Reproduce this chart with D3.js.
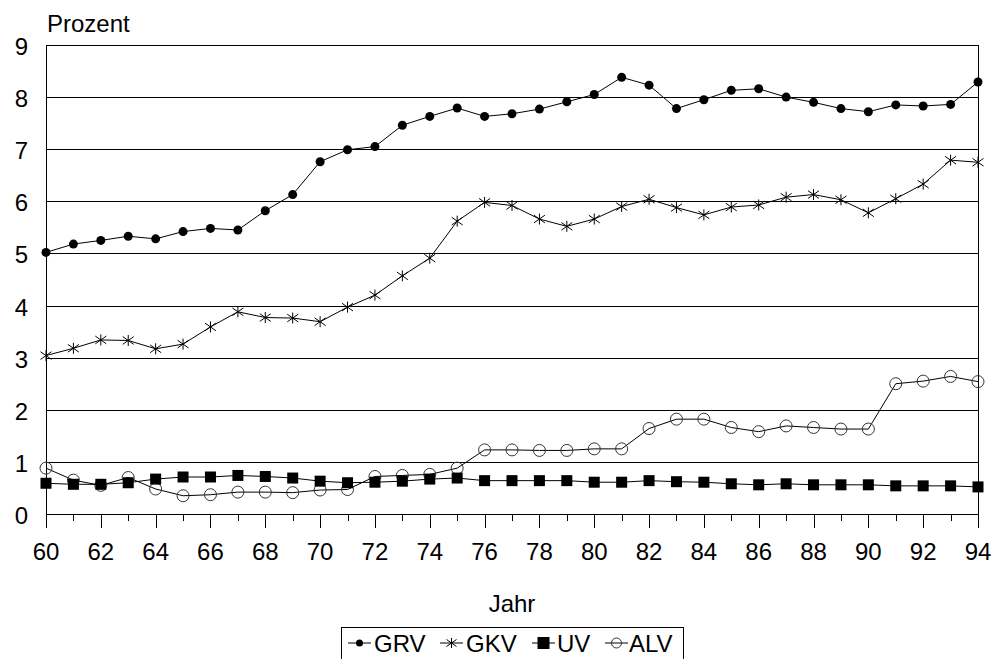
<!DOCTYPE html>
<html>
<head>
<meta charset="utf-8">
<script src="https://cdn.jsdelivr.net/npm/d3@7"></script>
<style>
  html, body { margin: 0; padding: 0; background: #fff; }
  svg { display: block; font-family: "Liberation Sans", Arial, sans-serif; }
</style>
</head>
<body>
<svg id="chart" width="992" height="659"></svg>
<script>
// ---- data ----
const years = [60,61,62,63,64,65,66,67,68,69,70,71,72,73,74,75,76,77,78,79,80,81,82,83,84,85,86,87,88,89,90,91,92,93,94];
const xTickLabels = [60,62,64,66,68,70,72,74,76,78,80,82,84,86,88,90,92,94];
const yTickLabels = [0,1,2,3,4,5,6,7,8,9];
const seriesNames = ["GRV","GKV","UV","ALV"];

const GRV = [5.02,5.18,5.25,5.33,5.28,5.42,5.48,5.45,5.82,6.13,6.76,6.99,7.05,7.46,7.63,7.79,7.63,7.68,7.77,7.91,8.05,8.38,8.23,7.78,7.95,8.13,8.16,8.00,7.90,7.78,7.72,7.85,7.83,7.86,8.29];
const GKV = [3.04,3.18,3.34,3.33,3.17,3.26,3.59,3.88,3.77,3.76,3.69,3.97,4.20,4.57,4.91,5.62,5.98,5.92,5.66,5.52,5.66,5.90,6.04,5.88,5.74,5.89,5.93,6.08,6.13,6.03,5.78,6.05,6.33,6.79,6.75];
const UV  = [0.59,0.57,0.57,0.60,0.67,0.71,0.71,0.74,0.72,0.69,0.63,0.60,0.61,0.63,0.67,0.69,0.64,0.64,0.64,0.64,0.61,0.61,0.64,0.62,0.61,0.58,0.56,0.58,0.56,0.56,0.56,0.54,0.54,0.54,0.52];
const ALV = [0.88,0.65,0.55,0.70,0.48,0.35,0.37,0.42,0.42,0.41,0.46,0.47,0.72,0.74,0.76,0.88,1.23,1.23,1.22,1.22,1.25,1.25,1.64,1.82,1.82,1.66,1.58,1.69,1.66,1.63,1.63,2.50,2.55,2.64,2.54];

// ---- layout ----
const svg = d3.select("#chart");
const pLeft = 46, pRight = 978, pTop = 45, pBottom = 514;
const x = d3.scaleLinear().domain([60, 94]).range([pLeft, pRight]);
const y = d3.scaleLinear().domain([0, 9]).range([pBottom, pTop]);
const fontSize = 24;
const crisp = v => Math.round(v) + 0.5;

// horizontal gridlines
svg.append("g").selectAll("line").data(yTickLabels).join("line")
  .attr("x1", pLeft).attr("x2", pRight)
  .attr("y1", d => crisp(y(d))).attr("y2", d => crisp(y(d)))
  .attr("stroke", "#000").attr("stroke-width", 1);

// y labels
svg.append("g").selectAll("text").data(yTickLabels).join("text")
  .attr("x", 28).attr("y", d => y(d) + 10)
  .attr("text-anchor", "end")
  .attr("font-size", fontSize)
  .attr("fill", "#000")
  .text(d => d);

// left & right frame lines
[pLeft, pRight].forEach(px => {
  svg.append("line").attr("x1", crisp(px)).attr("x2", crisp(px))
    .attr("y1", pTop).attr("y2", pBottom)
    .attr("stroke", "#000").attr("stroke-width", 1);
});

// x axis ticks: minor every year, major every two years
svg.append("g").selectAll("line").data(years).join("line")
  .attr("x1", d => crisp(x(d))).attr("x2", d => crisp(x(d)))
  .attr("y1", pBottom).attr("y2", d => pBottom + (xTickLabels.includes(d) ? 14 : 7))
  .attr("stroke", "#000").attr("stroke-width", 1);

// x labels
svg.append("g").selectAll("text").data(xTickLabels).join("text")
  .attr("x", d => x(d)).attr("y", 560)
  .attr("text-anchor", "middle")
  .attr("font-size", fontSize)
  .attr("fill", "#000")
  .text(d => d);

// axis titles
svg.append("text").attr("x", 47).attr("y", 32).attr("font-size", fontSize).attr("fill", "#000").text("Prozent");
svg.append("text").attr("x", (pLeft + pRight) / 2).attr("y", 612).attr("text-anchor", "middle")
  .attr("font-size", fontSize).attr("fill", "#000").text("Jahr");

// ---- series ----
const line = d3.line().x((d, i) => x(years[i])).y(d => y(d));
const starPath = s => `M0,${-s} V${s} M${-s},${-s*0.7} L${s},${s*0.7} M${-s},${s*0.7} L${s},${-s*0.7}`;

function drawLine(vals) {
  svg.append("path").datum(vals).attr("d", line)
    .attr("fill", "none").attr("stroke", "#000").attr("stroke-width", 1);
}

// GRV
drawLine(GRV);
svg.append("g").selectAll("circle").data(GRV).join("circle")
  .attr("cx", (d, i) => x(years[i])).attr("cy", d => y(d)).attr("r", 4.5).attr("fill", "#000");

// GKV
drawLine(GKV);
svg.append("g").selectAll("path").data(GKV).join("path")
  .attr("transform", (d, i) => `translate(${x(years[i])},${y(d)})`)
  .attr("d", starPath(5.5)).attr("stroke", "#000").attr("stroke-width", 1).attr("fill", "none");

// ALV
drawLine(ALV);
svg.append("g").selectAll("circle").data(ALV).join("circle")
  .attr("cx", (d, i) => x(years[i])).attr("cy", d => y(d)).attr("r", 6)
  .attr("fill", "none").attr("stroke", "#333").attr("stroke-width", 1);

// UV
drawLine(UV);
svg.append("g").selectAll("rect").data(UV).join("rect")
  .attr("x", (d, i) => x(years[i]) - 5.5).attr("y", d => y(d) - 5.5)
  .attr("width", 11).attr("height", 11).attr("fill", "#000");

// ---- legend ----
const lg = svg.append("g");
lg.append("rect").attr("x", 341.5).attr("y", 627.5).attr("width", 342).attr("height", 40)
  .attr("fill", "#fff").attr("stroke", "#000").attr("stroke-width", 1);
const legendItems = [
  { name: seriesNames[0], sx: 348, tx: 374 },
  { name: seriesNames[1], sx: 440, tx: 466 },
  { name: seriesNames[2], sx: 532, tx: 557 },
  { name: seriesNames[3], sx: 605, tx: 629 }
];
const ly = 643;
legendItems.forEach((it, k) => {
  const cx = it.sx + 11.5;
  lg.append("line").attr("x1", it.sx).attr("x2", it.sx + 23).attr("y1", ly).attr("y2", ly)
    .attr("stroke", "#000").attr("stroke-width", 1);
  if (k === 0) lg.append("circle").attr("cx", cx).attr("cy", ly).attr("r", 3.5).attr("fill", "#000");
  if (k === 1) lg.append("path").attr("transform", `translate(${cx},${ly})`).attr("d", starPath(5))
      .attr("stroke", "#000").attr("fill", "none");
  if (k === 2) lg.append("rect").attr("x", cx - 6).attr("y", ly - 6).attr("width", 12).attr("height", 12).attr("fill", "#000");
  if (k === 3) lg.append("circle").attr("cx", cx).attr("cy", ly).attr("r", 5).attr("fill", "none").attr("stroke", "#333");
  lg.append("text").attr("x", it.tx).attr("y", 652).attr("font-size", fontSize).attr("fill", "#000").text(it.name);
});
</script>
</body>
</html>
